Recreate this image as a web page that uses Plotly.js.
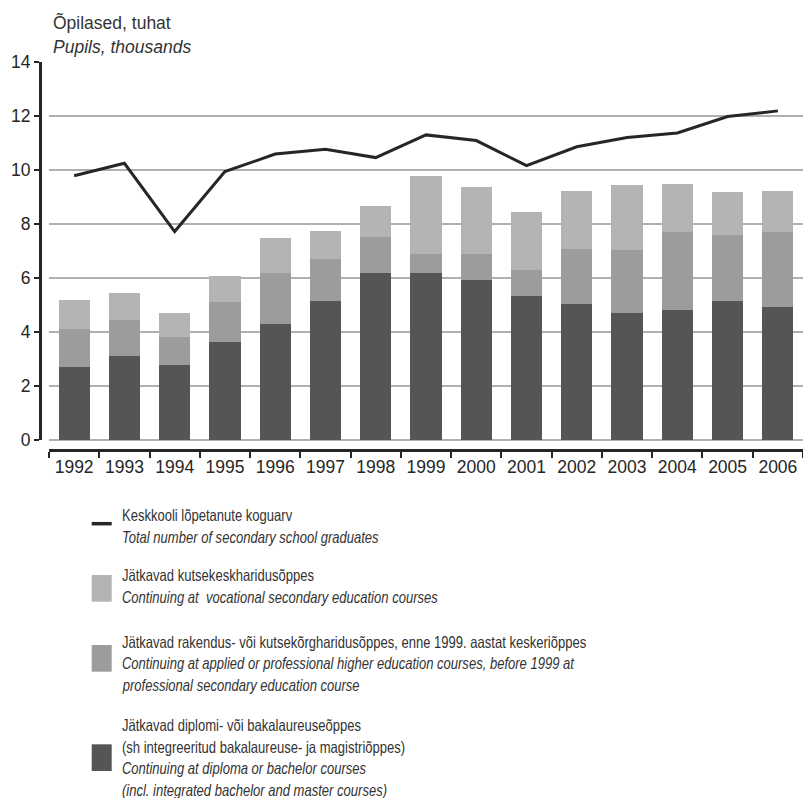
<!DOCTYPE html>
<html>
<head>
<meta charset="utf-8">
<script src="https://cdn.plot.ly/plotly-3.0.1.min.js"></script>
<style>html,body{margin:0;padding:0;background:#fff;}#chart{width:803px;height:798px;}</style>
</head>
<body>
<div id="chart"></div>
<script>
const years = ["1992","1993","1994","1995","1996","1997","1998","1999","2000","2001","2002","2003","2004","2005","2006"];
const totalGraduates = [9.79,10.25,7.72,9.94,10.59,10.77,10.46,11.30,11.09,10.16,10.86,11.20,11.37,11.98,12.19];
const bachelorCourses = [2.71,3.11,2.78,3.63,4.30,5.15,6.19,6.19,5.93,5.33,5.04,4.70,4.81,5.15,4.93];
const appliedHigher = [1.40,1.33,1.03,1.48,1.89,1.55,1.33,0.70,0.96,0.97,2.03,2.34,2.89,2.44,2.77];
const vocationalSecondary = [1.08,1.00,0.89,0.96,1.29,1.04,1.15,2.89,2.48,2.14,2.15,2.40,1.78,1.60,1.52];
const yTicks = [0,2,4,6,8,10,12,14];

const titleLines = ["Õpilased, tuhat", "<i>Pupils, thousands</i>"];
const legendItems = [
  {kind:"line", color:"#262626", lines:["Keskkooli lõpetanute koguarv","<i>Total number of secondary school graduates</i>"]},
  {kind:"box", color:"#b4b4b4", lines:["Jätkavad kutsekeskharidusõppes","<i>Continuing at  vocational secondary education courses</i>"]},
  {kind:"box", color:"#9c9c9c", lines:["Jätkavad rakendus- või kutsekõrgharidusõppes, enne 1999. aastat keskeriõppes","<i>Continuing at applied or professional higher education courses, before 1999 at</i>","<i>professional secondary education course</i>"]},
  {kind:"box", color:"#555555", lines:["Jätkavad diplomi- või bakalaureuseõppes","(sh integreeritud bakalaureuse- ja magistriõppes)","<i>Continuing at diploma or bachelor courses</i>","<i>(incl. integrated bachelor and master courses)</i>"]}
];

const W = 803, H = 798;
const M = {l:40, r:0, t:62, b:348};
const pw = W - M.l - M.r, ph = H - M.t - M.b;
const px = x => (x - M.l) / pw;
const py = y => (H - M.b - y) / ph;

const traces = [
  {type:"bar", x:years, y:bachelorCourses, marker:{color:"#555555"}, width:0.62, hoverinfo:"skip"},
  {type:"bar", x:years, y:appliedHigher, marker:{color:"#9c9c9c"}, width:0.62, hoverinfo:"skip"},
  {type:"bar", x:years, y:vocationalSecondary, marker:{color:"#b4b4b4"}, width:0.62, hoverinfo:"skip"},
  {type:"scatter", mode:"lines", x:years, y:totalGraduates, line:{color:"#262626", width:3}, hoverinfo:"skip"}
];

const annotations = [];
const shapes = [];
const titleBase = [28.3, 53.3];
titleLines.forEach((t,i)=>{
  annotations.push({xref:"paper", yref:"paper", x:px(51), y:py(titleBase[i]-6), xanchor:"left", yanchor:"middle",
    text:t, showarrow:false, font:{size:17.5, color:"#333", family:"Liberation Sans, Arial, sans-serif"}});
});

const legendBaselines = [[520.7,542.3],[580.5,602.7],[647.3,669,690.7],[730.7,752.2,773.7,795.2]];
const swatchY = [[523.7,523.7],[575,601.7],[645,671.7],[744.3,771]];
const legFont = {size:16.3, color:"#333", family:"Liberation Sans, Arial, sans-serif"};
legendItems.forEach((it,k)=>{
  it.lines.forEach((t,j)=>{
    annotations.push({xref:"paper", yref:"paper", x:px(120), y:py(legendBaselines[k][j]-5.6), xanchor:"left", yanchor:"middle",
      text:t, showarrow:false, font:legFont});
  });
  if (it.kind === "line") {
    shapes.push({type:"line", xref:"paper", yref:"paper", x0:px(91.7), x1:px(111.7), y0:py(swatchY[k][0]), y1:py(swatchY[k][1]), line:{color:it.color, width:3.5}});
  } else {
    shapes.push({type:"rect", xref:"paper", yref:"paper", x0:px(91.7), x1:px(111.7), y0:py(swatchY[k][0]), y1:py(swatchY[k][1]), line:{width:0}, fillcolor:it.color});
  }
});

const layout = {
  width:W, height:H, margin:M, paper_bgcolor:"#fff", plot_bgcolor:"#fff",
  barmode:"stack", showlegend:false,
  font:{family:"Liberation Sans, Arial, sans-serif", size:17.5, color:"#262626"},
  xaxis:{type:"category", domain:[9/pw,1], anchor:"free", position:0, range:[-0.5,14.5],
    showline:true, linecolor:"#262626", linewidth:3, ticks:"outside", tickson:"boundaries", ticklen:6, tickwidth:2, tickcolor:"#262626",
    showgrid:false, zeroline:false, tickfont:{size:17.5, color:"#262626"}, fixedrange:true},
  yaxis:{domain:[10/ph,1], anchor:"free", position:0, range:[0,14], tickvals:yTicks, ticktext:yTicks.map(String),
    showline:true, linecolor:"#262626", linewidth:3, ticks:"outside", ticklen:5, tickwidth:2, tickcolor:"#262626",
    showgrid:true, gridcolor:"#b0b0b0", gridwidth:1.5, zeroline:true, zerolinecolor:"#b0b0b0", zerolinewidth:1.5,
    tickfont:{size:17.5, color:"#262626"}, fixedrange:true},
  annotations:annotations, shapes:shapes
};

// The legend text in the reference is set in a narrow face; condense it horizontally.
const LEGEND_SCALE_X = 0.8;
Plotly.newPlot("chart", traces, layout, {displayModeBar:false, staticPlot:true}).then(gd => {
  gd.querySelectorAll(".annotation").forEach(a => {
    const idx = +a.getAttribute("data-index");
    if (idx < titleLines.length) return;
    const t = a.querySelector("text");
    if (!t) return;
    const bb = t.getBBox();
    t.setAttribute("transform", `translate(${bb.x},0) scale(${LEGEND_SCALE_X},1) translate(${-bb.x},0)`);
  });
});
</script>
</body>
</html>
